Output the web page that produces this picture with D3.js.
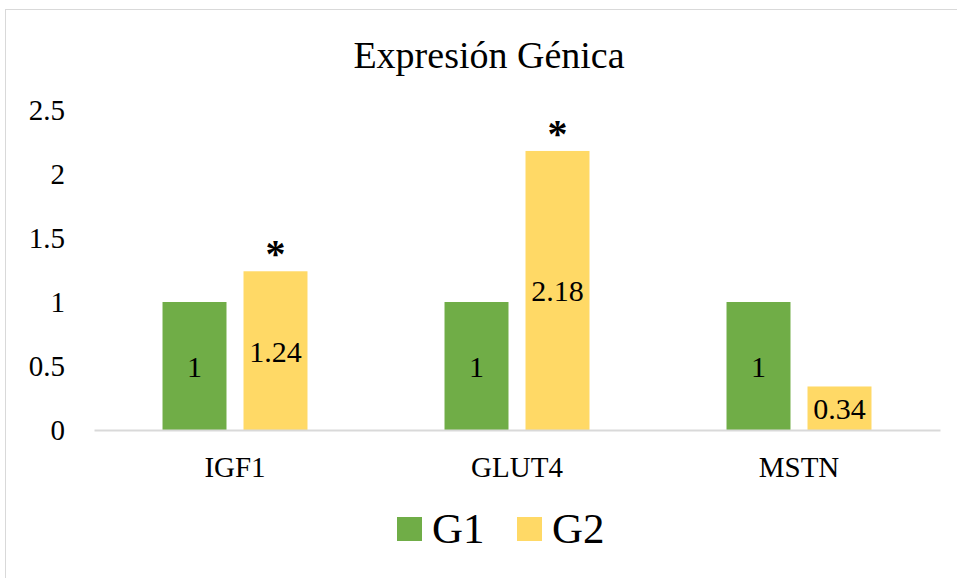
<!DOCTYPE html>
<html>
<head>
<meta charset="utf-8">
<script src="https://cdn.jsdelivr.net/npm/d3@7"></script>
<style>
  html, body { margin: 0; padding: 0; background: #fff; }
  svg { display: block; }
  svg text { font-family: "Liberation Serif", "Times New Roman", serif; }
</style>
</head>
<body>
<svg id="chart" width="957" height="578"></svg>
<script>
// Gene expression data
const categories = ["IGF1", "GLUT4", "MSTN"];
const seriesNames = ["G1", "G2"];
const g1Values = [1, 1, 1];
const g2Values = [1.24, 2.18, 0.34];
const g2Significant = [true, true, false];
const yTicks = [0, 0.5, 1, 1.5, 2, 2.5];
const colors = ["#70ad47", "#ffd966"];

const SERIF = "Liberation Serif, Times New Roman, serif";
const svg = d3.select("#chart");

// Outer frame
svg.append("rect")
  .attr("x", 5.5).attr("y", 9.5)
  .attr("width", 970).attr("height", 600)
  .attr("fill", "none").attr("stroke", "#d9d9d9").attr("stroke-width", 1);

const plot = { left: 94, right: 940, top: 110, bottom: 430 };

const x = d3.scaleBand().domain(categories).range([plot.left, plot.right]);
const y = d3.scaleLinear().domain([0, 2.5]).range([plot.bottom, plot.top]);
const x1 = d3.scaleBand().domain(seriesNames).range([0, x.bandwidth()])
  .paddingInner(0.21).paddingOuter(0.846);

// Title
svg.append("text")
  .attr("x", 489).attr("y", 68)
  .attr("text-anchor", "middle")
  .attr("font-family", SERIF)
  .attr("font-size", 38)
  .attr("fill", "#000")
  .text("Expresión Génica");

// Y axis labels
const yAxis = d3.axisLeft(y).tickValues(yTicks).tickSize(0).tickPadding(0)
  .tickFormat(d => String(d));
const yg = svg.append("g").attr("transform", "translate(65,0)").call(yAxis);
yg.attr("font-family", SERIF);
yg.select(".domain").remove();
yg.selectAll("text").attr("font-size", 29).attr("font-family", SERIF).attr("fill", "#000");

// Bars
const rows = categories.map((c, i) => ({
  cat: c,
  items: [
    { s: seriesNames[0], v: g1Values[i], j: 0, sig: false },
    { s: seriesNames[1], v: g2Values[i], j: 1, sig: g2Significant[i] }
  ]
}));
const groups = svg.append("g").selectAll("g").data(rows).join("g")
  .attr("transform", d => `translate(${x(d.cat)},0)`);

groups.selectAll("rect").data(d => d.items)
  .join("rect")
  .attr("x", d => x1(d.s))
  .attr("width", x1.bandwidth())
  .attr("y", d => y(d.v))
  .attr("height", d => y(0) - y(d.v))
  .attr("fill", d => colors[d.j]);

// Value labels inside bars
groups.selectAll("text.val").data(d => d.items)
  .join("text")
  .attr("class", "val")
  .attr("x", d => x1(d.s) + x1.bandwidth() / 2)
  .attr("y", d => (y(d.v) + y(0)) / 2 + 11)
  .attr("text-anchor", "middle")
  .attr("font-family", SERIF)
  .attr("font-size", 30)
  .attr("fill", "#000")
  .text(d => d.v);

// Significance markers
groups.selectAll("text.sig").data(d => d.items.filter(e => e.sig))
  .join("text")
  .attr("class", "sig")
  .attr("x", d => x1(d.s) + x1.bandwidth() / 2)
  .attr("y", d => y(d.v) - 4)
  .attr("text-anchor", "middle")
  .attr("font-family", SERIF)
  .attr("font-weight", "bold")
  .attr("font-size", 40)
  .attr("fill", "#000")
  .text("*");

// X axis
const xAxis = d3.axisBottom(x).tickSize(0).tickPadding(0);
const xg = svg.append("g").attr("transform", `translate(0,${plot.bottom})`).call(xAxis);
xg.attr("font-family", SERIF);
xg.select(".domain").attr("stroke", "#d9d9d9").attr("stroke-width", 2);
xg.selectAll("text").attr("font-size", 29).attr("font-family", SERIF)
  .attr("fill", "#000").attr("dy", 0).attr("y", 47);

// Legend
const legend = svg.append("g").attr("transform", "translate(397,517)");
const lx = [0, 120];
seriesNames.forEach((name, i) => {
  const g = legend.append("g").attr("transform", `translate(${lx[i]},0)`);
  g.append("rect").attr("width", 25).attr("height", 24).attr("fill", colors[i]);
  g.append("text").attr("x", 35).attr("y", 26)
    .attr("font-family", SERIF).attr("font-size", 43).attr("fill", "#000").text(name);
});
</script>
</body>
</html>
